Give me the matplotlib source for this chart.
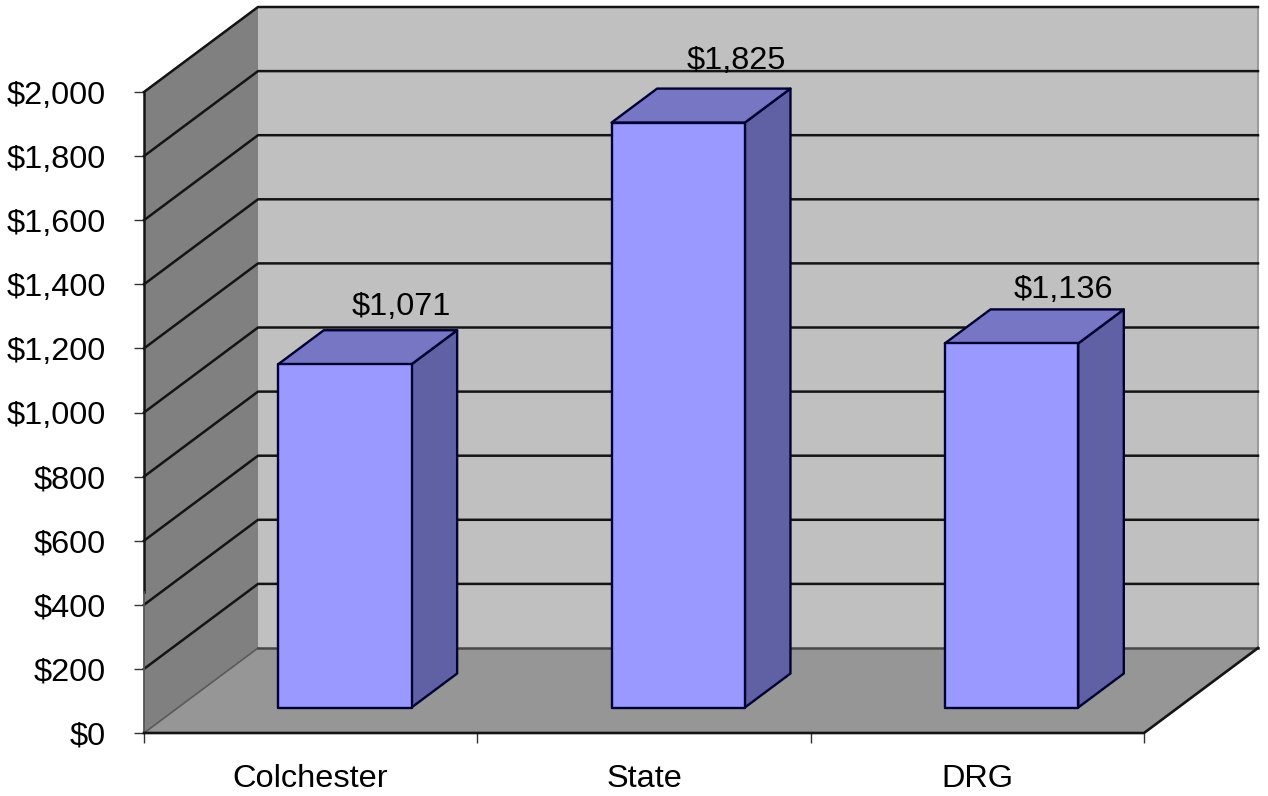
import matplotlib
matplotlib.use('Agg')
import matplotlib.pyplot as plt
from matplotlib.patches import Polygon

plt.rcParams['font.family'] = ['Liberation Sans', 'DejaVu Sans']

# values
categories = ['Colchester', 'State', 'DRG']
values = [1071, 1825, 1136]
value_labels = ['$1,071', '$1,825', '$1,136']
y_ticks = [0, 200, 400, 600, 800, 1000, 1200, 1400, 1600, 1800, 2000]
y_tick_labels = ['$0', '$200', '$400', '$600', '$800', '$1,000', '$1,200',
                 '$1,400', '$1,600', '$1,800', '$2,000']

# label nudges in points, from the bar's front top centre
label_nudge = [(41, 41), (42, 44), (37, 38.5)]

W, H = 1268, 796
x_max = len(categories)
y_max = 2000
font_size = 23.4

# how far the box recedes, in axis units
depth_x = 114 / 1000 * x_max
depth_y = 85 / 641 * y_max


def proj(x, y, d):
    # oblique projection: d=0 is the front plane, d=1 the back wall
    return (x + d * depth_x, y + d * depth_y)


fig = plt.figure(figsize=(W / 100, H / 100), dpi=100)
ax = fig.add_axes([144 / W, 1 - 733 / H, 1000 / W, 641 / H])
ax.set_xlim(0, x_max)
ax.set_ylim(0, y_max)
for s in ax.spines.values():
    s.set_visible(False)
ax.patch.set_visible(False)


def face(points, color, edge='none', lw=0, z=1):
    ax.add_patch(Polygon(points, closed=True, facecolor=color, edgecolor=edge,
                         linewidth=lw, zorder=z, clip_on=False, joinstyle='round'))


# walls and floor
face([proj(0, 0, 1), proj(x_max, 0, 1), proj(x_max, y_max, 1), proj(0, y_max, 1)], '#c0c0c0')
face([proj(0, 0, 0), proj(0, 0, 1), proj(0, y_max, 1), proj(0, y_max, 0)], '#808080')
face([proj(0, 0, 0), proj(x_max, 0, 0), proj(x_max, 0, 1), proj(0, 0, 1)], '#969696')

# wall outlines
grey_edge = dict(color='#5a5a5a', lw=1.2, zorder=2, clip_on=False)
ax.plot(*zip(proj(0, y_max, 0), proj(0, y_max, 1), proj(x_max, y_max, 1)), **grey_edge)
ax.plot(*zip(proj(x_max, y_max, 1), proj(x_max, 0, 1)), color='#999999', lw=1.4, zorder=2, clip_on=False)
ax.plot(*zip(proj(0, 0, 0), proj(0, 0, 1)), **grey_edge)

# gridlines run along the side wall and across the back
for t in y_ticks[1:]:
    ax.plot(*zip(proj(0, t, 0), proj(0, t, 1), proj(x_max, t, 1)),
            color='#141414', lw=1.8, zorder=2, clip_on=False, solid_joinstyle='round')
ax.plot(*zip(proj(0, 0, 1), proj(x_max, 0, 1)), color='#484848', lw=1.8, zorder=2, clip_on=False)

# front edges of the box
ax.plot([0, 0], [440, y_max], color='#141414', lw=1.8, zorder=2, clip_on=False)
ax.plot([0, 0], [0, 440], color='#555555', lw=1.3, zorder=2, clip_on=False)
ax.plot(*zip(proj(0, 0, 0), proj(x_max, 0, 0), proj(x_max, 0, 1)),
        color='#141414', lw=1.9, zorder=2, clip_on=False)

# bars
bar_edge = '#000033'
for i, v in enumerate(values):
    x0, x1 = i + 0.3, i + 0.7
    d0, d1 = 0.3, 0.7
    z = 3 + i
    face([proj(x1, 0, d0), proj(x1, 0, d1), proj(x1, v, d1), proj(x1, v, d0)],
         '#6060a5', bar_edge, 1.7, z)
    face([proj(x0, v, d0), proj(x1, v, d0), proj(x1, v, d1), proj(x0, v, d1)],
         '#7676c4', bar_edge, 1.7, z)
    face([proj(x0, 0, d0), proj(x1, 0, d0), proj(x1, v, d0), proj(x0, v, d0)],
         '#9999ff', bar_edge, 1.7, z)
    ax.annotate(value_labels[i], xy=proj(i + 0.5, v, d0), xytext=label_nudge[i],
                textcoords='offset points', ha='center', va='center',
                fontsize=font_size, color='black', zorder=10, annotation_clip=False)

# ticks
ax.set_yticks(y_ticks)
ax.set_yticklabels(y_tick_labels, fontsize=font_size)
ax.tick_params(axis='y', length=7.2, width=1, color='#333333', pad=20.5)
ax.set_xticks(range(x_max + 1))
ax.set_xticklabels([])
ax.tick_params(axis='x', length=7.2, width=1, color='#333333')
ax.set_xticks([i + 0.5 for i in range(x_max)], minor=True)
ax.set_xticklabels(categories, minor=True, fontsize=font_size)
ax.tick_params(axis='x', which='minor', length=0, pad=22)

fig.savefig('out.png', dpi=100)
